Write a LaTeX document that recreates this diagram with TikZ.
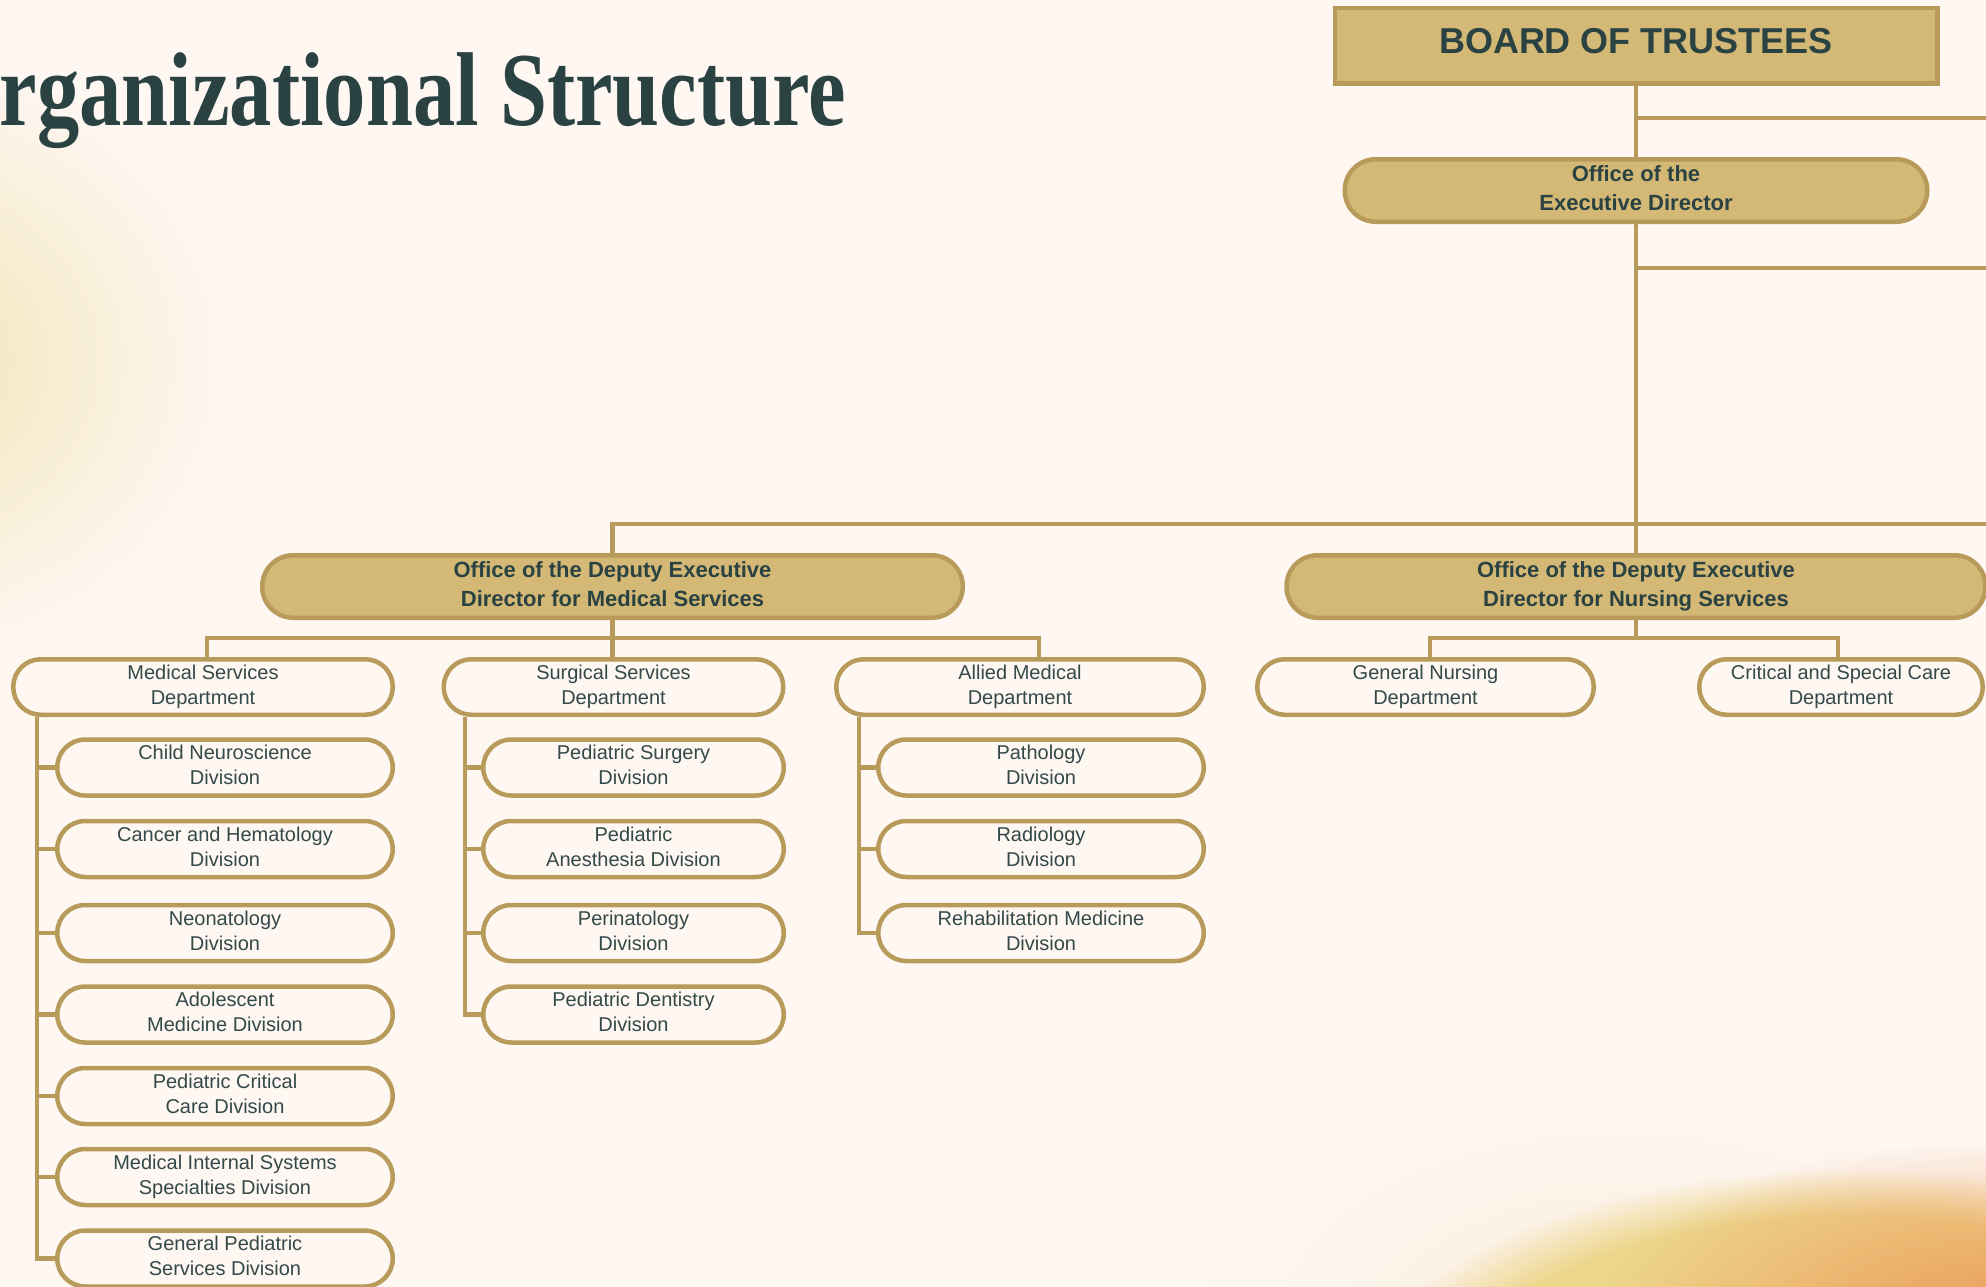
\documentclass[tikz,border=0pt]{standalone}
\usepackage{fontspec}
\setmainfont{Liberation Sans}
\newfontfamily\titlefont{Liberation Serif}
\usetikzlibrary{fadings}
\definecolor{bg}{HTML}{FEF7F2}
\definecolor{gold}{HTML}{D4B876}
\definecolor{goldline}{HTML}{B89B5B}
\definecolor{ink}{HTML}{2A4342}
\definecolor{inksoft}{HTML}{34494A}
\definecolor{blobyellow}{HTML}{F2E5B5}
\definecolor{sunyellow}{HTML}{EDD68A}
\definecolor{sunorange}{HTML}{EB9B5C}
\definecolor{halo}{HTML}{FBEEDD}
\tikzfading[name=softblob, inner color=transparent!0, outer color=transparent!100]
\pgfdeclarelayer{blobs}
\pgfdeclarelayer{links}
\pgfsetlayers{blobs,links,main}
\begin{document}
\begin{tikzpicture}[x=1pt,y=-1pt,
  link/.style={draw=goldline, line width=4.5pt},
  headpill/.style={draw=goldline, fill=gold, line width=4.5pt, rounded corners=31pt,
    minimum height=62.5pt, align=center, inner sep=0pt, text=ink, text depth=5pt,
    font=\fontsize{22}{29}\selectfont\bfseries},
  deptpill/.style={draw=goldline, fill=bg, line width=4.5pt, rounded corners=27.5pt,
    minimum height=55.5pt, align=center, inner sep=0pt, text=inksoft,
    font=\fontsize{20}{24.5}\selectfont},
  divpill/.style={draw=goldline, fill=bg, line width=4.5pt, rounded corners=28pt,
    minimum height=56pt, align=center, inner sep=0pt, text=inksoft, text depth=5pt,
    font=\fontsize{20}{25}\selectfont},
  mdiv/.style={divpill, minimum width=335.5pt},
  sdiv/.style={divpill, minimum width=300.5pt},
  adiv/.style={divpill, minimum width=325.5pt}
]
\useasboundingbox (0,0) rectangle (1986,1287);
\clip (0,0) rectangle (1986,1287);

% background and soft colour blobs
\begin{pgfonlayer}{blobs}
  \fill[bg] (0,0) rectangle (1986,1287);
  \fill[blobyellow, path fading=softblob] (-100,360) ellipse [x radius=330pt, y radius=300pt];
  \fill[halo, path fading=softblob] (1620,1330) ellipse [x radius=420pt, y radius=240pt];
  \fill[sunyellow, path fading=circle with fuzzy edge 20 percent] (1850,1410) ellipse [x radius=500pt, y radius=240pt];
  \fill[sunorange, path fading=softblob] (2000,1320) ellipse [x radius=400pt, y radius=180pt];
\end{pgfonlayer}

% title
\node[anchor=base east, inner sep=0pt, text=ink,
  font=\titlefont\bfseries\fontsize{105}{105}\selectfont] (title) at (846,125)
  {\scalebox{0.805}[1]{Organizational Structure}};

% top levels
\node[draw=goldline, fill=gold, line width=4.5pt, minimum width=602.5pt, minimum height=75.5pt,
  inner sep=0pt, text=ink, font=\fontsize{36}{36}\selectfont\bfseries, text depth=10pt]
  (board) at (1636,46) {BOARD OF TRUSTEES};
\node[headpill, minimum width=582.5pt] (ed) at (1636,190.5) {Office of the\\Executive Director};
\node[headpill, minimum width=700.5pt] (dmed) at (612.5,586.5)
  {Office of the Deputy Executive\\Director for Medical Services};
\node[headpill, minimum width=699pt] (dnurse) at (1636,586.5)
  {Office of the Deputy Executive\\Director for Nursing Services};

% departments
\node[deptpill, minimum width=379.5pt] (msd) at (203,687) {Medical Services\\Department};
\node[deptpill, minimum width=339.5pt] (ssd) at (613.5,687) {Surgical Services\\Department};
\node[deptpill, minimum width=367.5pt] (amd) at (1020,687) {Allied Medical\\Department};
\node[deptpill, minimum width=336.5pt] (gnd) at (1425.5,687) {General Nursing\\Department};
\node[deptpill, minimum width=283.5pt] (csd) at (1841,687) {Critical and Special Care\\Department};

% medical services divisions
\node[mdiv] (m1) at (225,767.5) {Child Neuroscience\\Division};
\node[mdiv] (m2) at (225,849) {Cancer and Hematology\\Division};
\node[mdiv] (m3) at (225,933) {Neonatology\\Division};
\node[mdiv] (m4) at (225,1014.5) {Adolescent\\Medicine Division};
\node[mdiv] (m5) at (225,1096) {Pediatric Critical\\Care Division};
\node[mdiv] (m6) at (225,1177) {Medical Internal Systems\\Specialties Division};
\node[mdiv] (m7) at (225,1258.5) {General Pediatric\\Services Division};

% surgical services divisions
\node[sdiv] (s1) at (633.5,767.5) {Pediatric Surgery\\Division};
\node[sdiv] (s2) at (633.5,849) {Pediatric\\Anesthesia Division};
\node[sdiv] (s3) at (633.5,933) {Perinatology\\Division};
\node[sdiv] (s4) at (633.5,1014.5) {Pediatric Dentistry\\Division};

% allied medical divisions
\node[adiv] (a1) at (1041,767.5) {Pathology\\Division};
\node[adiv] (a2) at (1041,849) {Radiology\\Division};
\node[adiv] (a3) at (1041,933) {Rehabilitation Medicine\\Division};

% free ends and bus lines
\coordinate (r118) at (1992,118);
\coordinate (r268) at (1992,268);
\coordinate (r524) at (1992,524);
\coordinate (bus) at (0,638);
\coordinate (mspine) at (37,0);
\coordinate (sspine) at (465,0);
\coordinate (aspine) at (859,0);

\begin{pgfonlayer}{links}
  \draw[link] (board.south) -- (ed.north);
  \draw[link] (board.south |- r118) -- (r118);
  \draw[link] (ed.south) -- (dnurse.north);
  \draw[link] (ed.south |- r268) -- (r268);
  \draw[link] (dmed.north) -- (dmed.north |- r524) -- (r524);
  % medical deputy to departments
  \draw[link] (dmed.south) -- (dmed.south |- ssd.north);
  \draw[link] ([xshift=4pt]msd.north) |- ([xshift=19pt]amd.north |- bus) -- ([xshift=19pt]amd.north);
  % nursing deputy to departments
  \draw[link] (dnurse.south) -- (dnurse.south |- bus);
  \draw[link] ([xshift=4.5pt]gnd.north) |- ([xshift=-3pt]csd.north |- bus) -- ([xshift=-3pt]csd.north);
  % division spines
  \foreach \d in {m1,m2,m3,m4,m5,m6,m7}
    \draw[link] (msd.south -| mspine) |- (\d.west);
  \foreach \d in {s1,s2,s3,s4}
    \draw[link] (ssd.south -| sspine) |- (\d.west);
  \foreach \d in {a1,a2,a3}
    \draw[link] (amd.south -| aspine) |- (\d.west);
\end{pgfonlayer}
\end{tikzpicture}
\end{document}
